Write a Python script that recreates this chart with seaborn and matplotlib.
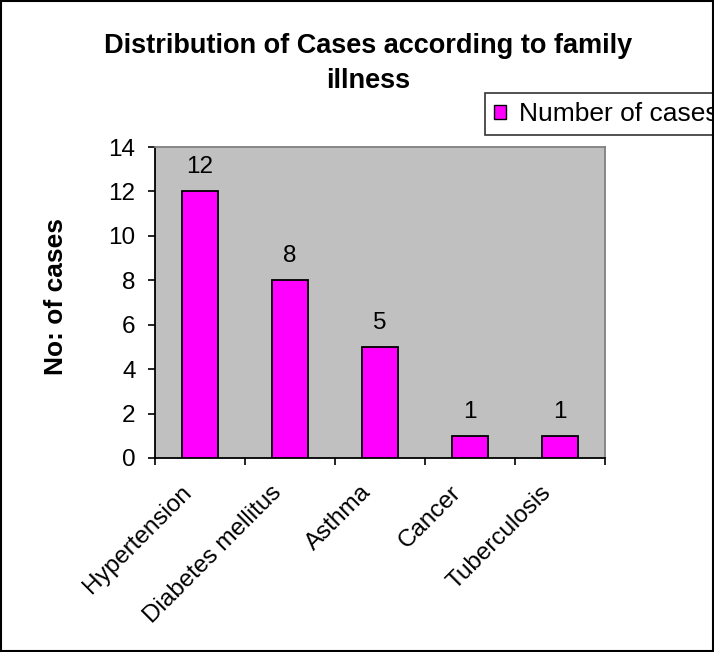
import matplotlib
matplotlib.use("Agg")
import matplotlib.pyplot as plt
import matplotlib.transforms as mtransforms
import seaborn as sns
import pandas as pd
import numpy as np
from matplotlib.patches import Rectangle, Patch

categories = ["Hypertension", "Diabetes mellitus", "Asthma", "Cancer", "Tuberculosis"]
cases = [12, 8, 5, 1, 1]
yticks = [0, 2, 4, 6, 8, 10, 12, 14]

sns.set_theme(style="white")
plt.rcParams['font.family'] = ['Liberation Sans', 'DejaVu Sans']
plt.rcParams['text.color'] = 'black'
plt.rcParams['axes.labelcolor'] = 'black'
plt.rcParams['xtick.color'] = 'black'
plt.rcParams['ytick.color'] = 'black'

FS = 17.5

df = pd.DataFrame({"illness": categories, "cases": cases})

fig = plt.figure(figsize=(7.14, 6.52), dpi=100)
ax = fig.add_axes([155/714, 1-458/652, 450/714, 311/652])
ax.set_facecolor("#C0C0C0")

sns.barplot(data=df, x="illness", y="cases", color="#FF00FF", width=0.4,
            edgecolor="black", linewidth=1.3, saturation=1, ax=ax, zorder=3)

ax.set_xlim(-0.5, len(categories) - 0.5)
ax.set_ylim(0, 14)
ax.set_yticks(yticks)
ax.set_yticklabels([str(t) for t in yticks], fontsize=FS)
ax.set_xticks(range(len(categories)))
ax.set_xticks(np.arange(-0.5, len(categories), 1), minor=True)
ax.tick_params(axis="x", which="major", length=0, pad=14)
ax.tick_params(axis="x", which="minor", length=5, width=1.2, color="black", direction="out", bottom=True)
ax.tick_params(axis="y", length=5, width=1.2, color="black", direction="out", left=True, pad=9)
ax.set_xticklabels(categories, rotation=45, ha="right", va="top",
                   rotation_mode="anchor", fontsize=FS)
offset = mtransforms.ScaledTranslation(-20/100, -4/100, fig.dpi_scale_trans)
for lab in ax.get_xticklabels():
    lab.set_transform(lab.get_transform() + offset)
ax.set_xlabel("")
ax.set_ylabel("")

for side in ["top", "right"]:
    ax.spines[side].set_color("#808080")
    ax.spines[side].set_linewidth(1.3)
for side in ["left", "bottom"]:
    ax.spines[side].set_color("black")
    ax.spines[side].set_linewidth(1.3)

for i, v in enumerate(cases):
    ax.annotate(str(v), (i, v), xytext=(0, 13), textcoords="offset points",
                ha="center", va="baseline", fontsize=FS)

fig.text(56/714, 1-297/652, "No: of cases", rotation=90, ha="center", va="center",
         fontsize=19, fontweight="bold")

fig.text(368/714, 1-46/652, "Distribution of Cases according to family", ha="center",
         va="center", fontsize=19.5, fontweight="bold")
fig.text(368/714, 1-81/652, "illness", ha="center", va="center",
         fontsize=19.5, fontweight="bold")

handle = Patch(facecolor="#FF00FF", edgecolor="black", linewidth=1)
leg = fig.legend([handle], ["Number of cases"], loc="upper left",
                 bbox_to_anchor=(485/714, 1-93/652), frameon=True, fontsize=19,
                 handlelength=0.45, handleheight=0.45, handletextpad=0.5,
                 borderpad=0.35, fancybox=False, borderaxespad=0)
leg.get_frame().set_edgecolor("black")
leg.get_frame().set_linewidth(1.2)

fig.patches.append(Rectangle((0.001, 0.001), 0.997, 0.997, transform=fig.transFigure,
                             fill=False, edgecolor="black", linewidth=1.5, zorder=20))

fig.savefig("out.png", dpi=100, facecolor="white")
